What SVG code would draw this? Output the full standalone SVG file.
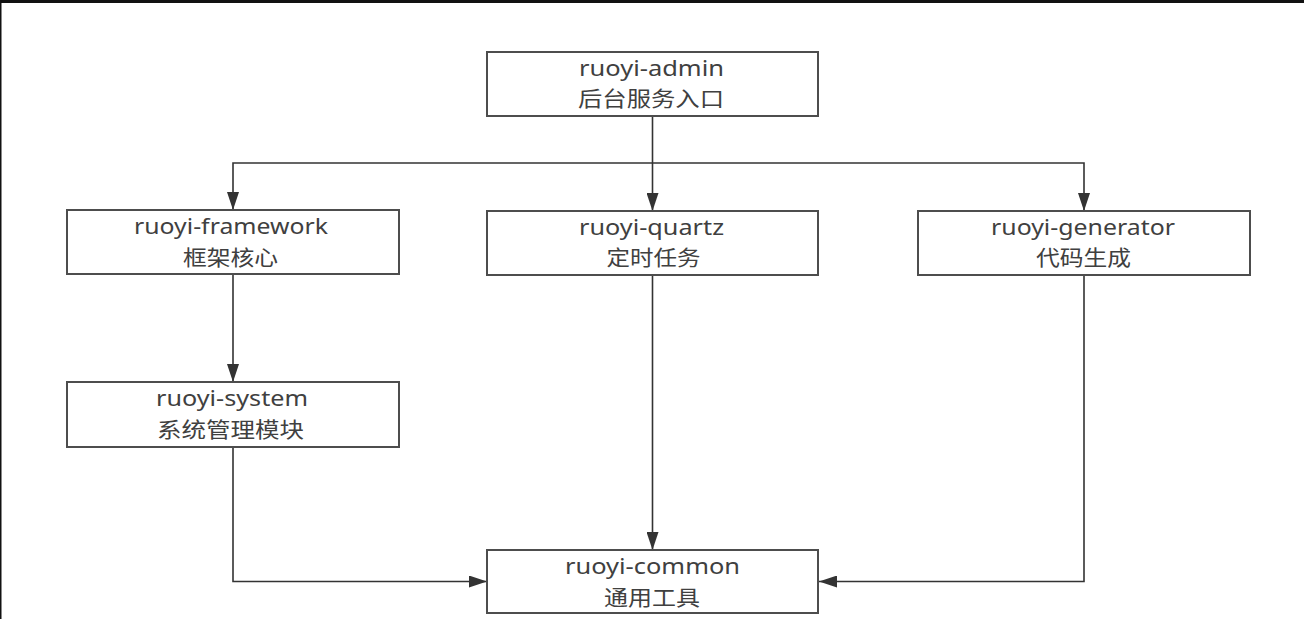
<svg xmlns="http://www.w3.org/2000/svg" width="1304" height="619" viewBox="0 0 1304 619">
<style>
.box{fill:#fff;stroke:#4d4d4d;stroke-width:2}
.t{font-family:"Noto Sans","Noto Sans CJK SC",sans-serif;font-size:21px;fill:#404040}
.c{fill:none;stroke:#333;stroke-width:1.6}
</style>
<defs>
<marker id="arr" markerUnits="userSpaceOnUse" markerWidth="18" markerHeight="12" refX="18" refY="6" orient="auto">
<path d="M0,0 L18,6 L0,12 z" fill="#333"/>
</marker>
</defs>
<rect x="0" y="0" width="1304" height="619" fill="#fff"/>
<rect x="0" y="0" width="1304" height="3" fill="#111"/>
<rect x="0" y="0" width="1.5" height="619" fill="#111"/>
<g id="connectors">
<path class="c" d="M652.5,116 V211" marker-end="url(#arr)"/>
<path class="c" d="M652.5,163 H233 V210" marker-end="url(#arr)"/>
<path class="c" d="M652.5,163 H1084 V211" marker-end="url(#arr)"/>
<path class="c" d="M233,274 V382" marker-end="url(#arr)"/>
<path class="c" d="M233,447 V581.5 H487" marker-end="url(#arr)"/>
<path class="c" d="M652.5,275 V550" marker-end="url(#arr)"/>
<path class="c" d="M1084,275 V581.5 H819" marker-end="url(#arr)"/>
</g>
<g id="admin">
<rect class="box" x="487" y="52" width="331" height="64"/>
<text class="t" x="579" y="76" textLength="145" lengthAdjust="spacingAndGlyphs">ruoyi-admin</text>
<text class="t" x="578" y="106" textLength="146" lengthAdjust="spacingAndGlyphs">后台服务入口</text>
</g>
<g id="framework">
<rect class="box" x="67" y="210" width="332" height="64"/>
<text class="t" x="134" y="234" textLength="194" lengthAdjust="spacingAndGlyphs">ruoyi-framework</text>
<text class="t" x="183" y="265" textLength="95" lengthAdjust="spacingAndGlyphs">框架核心</text>
</g>
<g id="quartz">
<rect class="box" x="487" y="211" width="331" height="64"/>
<text class="t" x="579" y="235" textLength="145" lengthAdjust="spacingAndGlyphs">ruoyi-quartz</text>
<text class="t" x="606.5" y="265" textLength="94" lengthAdjust="spacingAndGlyphs">定时任务</text>
</g>
<g id="generator">
<rect class="box" x="918" y="211" width="332" height="64"/>
<text class="t" x="991" y="235" textLength="184" lengthAdjust="spacingAndGlyphs">ruoyi-generator</text>
<text class="t" x="1036" y="265" textLength="95" lengthAdjust="spacingAndGlyphs">代码生成</text>
</g>
<g id="system">
<rect class="box" x="67" y="382" width="332" height="65"/>
<text class="t" x="156" y="406" textLength="152" lengthAdjust="spacingAndGlyphs">ruoyi-system</text>
<text class="t" x="157" y="437" textLength="147" lengthAdjust="spacingAndGlyphs">系统管理模块</text>
</g>
<g id="common">
<rect class="box" x="487" y="550" width="331" height="63"/>
<text class="t" x="565" y="574" textLength="175" lengthAdjust="spacingAndGlyphs">ruoyi-common</text>
<text class="t" x="604" y="605" textLength="96" lengthAdjust="spacingAndGlyphs">通用工具</text>
</g>
</svg>
